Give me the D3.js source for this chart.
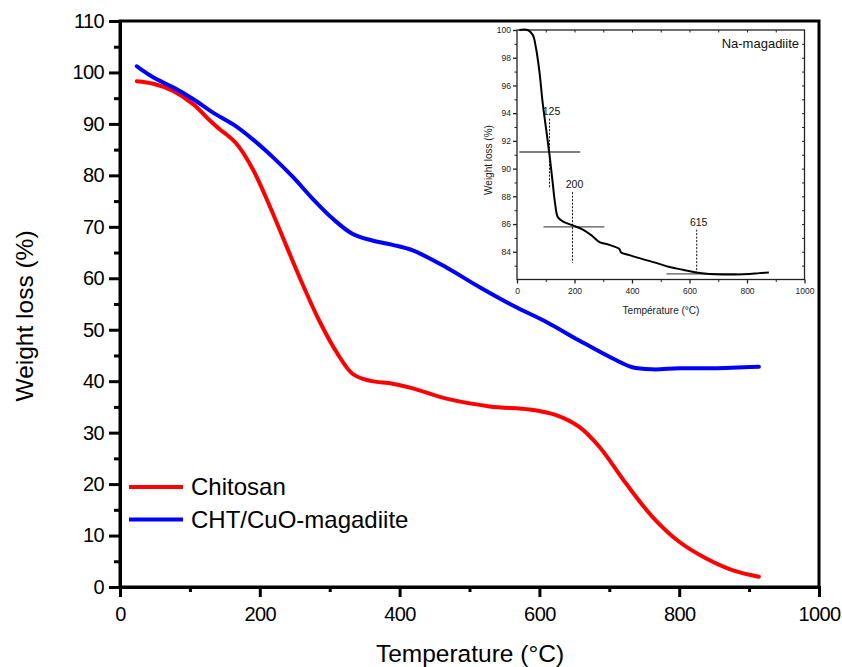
<!DOCTYPE html>
<html>
<head>
<meta charset="utf-8">
<script src="https://cdn.jsdelivr.net/npm/d3@7"></script>
<style>
  html, body { margin: 0; padding: 0; background: #fff; }
  svg { display: block; font-family: "Liberation Sans", Arial, sans-serif; }
</style>
</head>
<body>
<svg id="chart" width="842" height="667"></svg>
<script>
// ---- Main chart data ----
const chitosanTemp = [24, 48, 76, 105, 129, 143, 150, 167, 190, 214, 238, 262, 286, 310, 333, 357, 390, 419, 467, 529, 586, 624, 657, 686, 724, 762, 800, 838, 876, 914];
const chitosanWeight = [98.3, 97.8, 96.4, 93.8, 90.6, 88.9, 88.2, 86.1, 81.2, 74.1, 66.3, 58.6, 51.5, 45.6, 41.4, 40.1, 39.5, 38.6, 36.6, 35.1, 34.5, 33.4, 31.1, 27.2, 20.1, 13.6, 8.8, 5.6, 3.3, 2.0];
const chtTemp = [24, 28, 48, 76, 105, 133, 162, 190, 219, 248, 276, 305, 333, 362, 390, 419, 467, 514, 562, 610, 657, 705, 733, 762, 800, 848, 914];
const chtWeight = [101.2, 100.8, 99.0, 97.1, 94.8, 92.2, 89.9, 87.0, 83.5, 79.6, 75.4, 71.5, 68.6, 67.3, 66.5, 65.4, 62.1, 58.3, 54.7, 51.5, 47.9, 44.4, 42.7, 42.3, 42.5, 42.5, 42.8];
const seriesNames = ["Chitosan", "CHT/CuO-magadiite"];
const seriesColors = ["#ff0000", "#0000ff"];
const xTicks = [0, 200, 400, 600, 800, 1000];
const yTicks = [0, 10, 20, 30, 40, 50, 60, 70, 80, 90, 100, 110];

// ---- Inset data (Na-magadiite) ----
const insetTemp = [8, 37, 55, 66, 78, 89, 101, 113, 124, 133, 142, 159, 194, 229, 258, 287, 321, 356, 362, 391, 437, 484, 530, 577, 623, 669, 716, 762, 809, 843, 876];
const insetWeight = [100, 100, 99.64, 98.7, 97, 94.8, 92.9, 91, 89, 87.4, 86.5, 86.2, 85.9, 85.6, 85.2, 84.7, 84.5, 84.2, 83.95, 83.76, 83.47, 83.2, 82.9, 82.7, 82.5, 82.4, 82.36, 82.36, 82.4, 82.46, 82.5];
const insetXTicks = [0, 200, 400, 600, 800, 1000];
const insetYTicks = [84, 86, 88, 90, 92, 94, 96, 98, 100];
const insetMarkerTemps = [113, 193, 625];
const insetMarkerLabels = ["125", "200", "615"];
const insetMarkerYFrom = [93.6, 88.3, 85.6];
const insetMarkerYTo = [88.6, 83.2, 82.5];
const insetTangentY = [91.2, 85.8, 82.4];
const insetTangentX1 = [8, 92, 520];
const insetTangentX2 = [220, 304, 765];

const svg = d3.select("#chart");

// ---------- Main plot ----------
const L = 120, R = 819, T = 21, B = 587;
const x = d3.scaleLinear().domain([0, 1000]).range([L, R]);
const y = d3.scaleLinear().domain([0, 110]).range([B, T]);

// frame
svg.append("rect").attr("x", L).attr("y", T).attr("width", R - L).attr("height", B - T)
  .attr("fill", "none").attr("stroke", "#000").attr("stroke-width", 3);

// x axis
const xAxis = d3.axisBottom(x).tickValues(xTicks).tickSize(10).tickPadding(8).tickFormat(d3.format("d"));
const gx = svg.append("g").attr("transform", `translate(0,${B})`).call(xAxis);
gx.select(".domain").attr("stroke-width", 3);
gx.selectAll(".tick line").attr("stroke-width", 3);
gx.selectAll(".tick text").attr("font-size", 20).attr("font-family", "Liberation Sans, Arial, sans-serif").attr("letter-spacing", "-0.6px").attr("dy", "0.8em");
const xMinor = d3.axisBottom(x).tickValues(d3.range(100, 1000, 200)).tickSize(5).tickFormat("");
const gxm = svg.append("g").attr("transform", `translate(0,${B})`).call(xMinor);
gxm.select(".domain").remove();
gxm.selectAll(".tick line").attr("stroke-width", 3);

// y axis
const yAxis = d3.axisLeft(y).tickValues(yTicks).tickSize(11).tickPadding(5).tickFormat(d3.format("d"));
const gy = svg.append("g").attr("transform", `translate(${L},0)`).call(yAxis);
gy.select(".domain").attr("stroke-width", 3);
gy.selectAll(".tick line").attr("stroke-width", 3);
gy.selectAll(".tick text").attr("font-size", 20).attr("font-family", "Liberation Sans, Arial, sans-serif").attr("letter-spacing", "-0.6px");
const yMinor = d3.axisLeft(y).tickValues(d3.range(5, 110, 10)).tickSize(6).tickFormat("");
const gym = svg.append("g").attr("transform", `translate(${L},0)`).call(yMinor);
gym.select(".domain").remove();
gym.selectAll(".tick line").attr("stroke-width", 3);

// axis titles
svg.append("text").attr("x", 470).attr("y", 662).attr("text-anchor", "middle")
  .attr("font-size", 24.5).text("Temperature (°C)");
svg.append("text").attr("transform", "translate(33,316) rotate(-90)").attr("text-anchor", "middle")
  .attr("font-size", 24.5).text("Weight loss (%)");

// lines
const line = d3.line().x(d => x(d[0])).y(d => y(d[1])).curve(d3.curveCatmullRom.alpha(0.5));
const series = [
  d3.zip(chitosanTemp, chitosanWeight),
  d3.zip(chtTemp, chtWeight)
];
svg.selectAll("path.series").data(series).join("path").attr("class", "series")
  .attr("d", line).attr("fill", "none")
  .attr("stroke", (d, i) => seriesColors[i]).attr("stroke-width", 4)
  .attr("stroke-linejoin", "round").attr("stroke-linecap", "round");

// legend
const leg = svg.append("g");
seriesNames.forEach((name, i) => {
  const ly = 487 + i * 32.5;
  leg.append("line").attr("x1", 129).attr("x2", 183).attr("y1", ly).attr("y2", ly)
    .attr("stroke", seriesColors[i]).attr("stroke-width", 4);
  leg.append("text").attr("x", 191).attr("y", ly).attr("dy", "0.35em")
    .attr("font-size", 24).text(name);
});

// ---------- Inset ----------
const iL = 517, iR = 804.5, iT = 30, iB = 279.5;
const ix = d3.scaleLinear().domain([0, 1000]).range([iL, iR]);
const iy = d3.scaleLinear().domain([82, 100]).range([iB, iT]);
const inset = svg.append("g");

inset.append("rect").attr("x", iL).attr("y", iT).attr("width", iR - iL).attr("height", iB - iT)
  .attr("fill", "none").attr("stroke", "#222").attr("stroke-width", 1.3);

const ixAxis = d3.axisBottom(ix).tickValues(insetXTicks).tickSize(4).tickPadding(4).tickFormat(d3.format("d"));
const gix = inset.append("g").attr("transform", `translate(0,${iB})`).call(ixAxis);
gix.select(".domain").remove();
gix.selectAll(".tick line").attr("stroke", "#222").attr("stroke-width", 1.3);
gix.selectAll(".tick text").attr("font-size", 8.5).attr("fill", "#222").attr("font-family", "Liberation Sans, Arial, sans-serif");
const gixm = inset.append("g").attr("transform", `translate(0,${iB})`)
  .call(d3.axisBottom(ix).tickValues(d3.range(100, 1000, 200)).tickSize(2.5).tickFormat(""));
gixm.select(".domain").remove();
gixm.selectAll(".tick line").attr("stroke", "#222");
// top ticks (inward)
const gixt = inset.append("g").attr("transform", `translate(0,${iT})`)
  .call(d3.axisBottom(ix).tickValues(d3.range(100, 1000, 100)).tickSize(2.5).tickFormat(""));
gixt.select(".domain").remove();
gixt.selectAll(".tick line").attr("stroke", "#222");

const iyAxis = d3.axisLeft(iy).tickValues(insetYTicks).tickSize(4).tickPadding(2).tickFormat(d3.format("d"));
const giy = inset.append("g").attr("transform", `translate(${iL},0)`).call(iyAxis);
giy.select(".domain").remove();
giy.selectAll(".tick line").attr("stroke", "#222").attr("stroke-width", 1.3);
giy.selectAll(".tick text").attr("font-size", 8.5).attr("fill", "#222").attr("font-family", "Liberation Sans, Arial, sans-serif");
const giym = inset.append("g").attr("transform", `translate(${iL},0)`)
  .call(d3.axisLeft(iy).tickValues(d3.range(83, 100, 2)).tickSize(2.5).tickFormat(""));
giym.select(".domain").remove();
giym.selectAll(".tick line").attr("stroke", "#222");
// right ticks (inward)
const giyr = inset.append("g").attr("transform", `translate(${iR},0)`)
  .call(d3.axisLeft(iy).tickValues(d3.range(83, 100, 1)).tickSize(2.5).tickFormat(""));
giyr.select(".domain").remove();
giyr.selectAll(".tick line").attr("stroke", "#222");

inset.append("text").attr("x", 661).attr("y", 314).attr("text-anchor", "middle")
  .attr("font-size", 10).attr("fill", "#222").text("Température (°C)");
inset.append("text").attr("transform", "translate(492,160) rotate(-90)").attr("text-anchor", "middle")
  .attr("font-size", 10).attr("fill", "#222").text("Weight loss (%)");
inset.append("text").attr("x", 799).attr("y", 48).attr("text-anchor", "end")
  .attr("font-size", 13).attr("fill", "#111").text("Na-magadiite");

// tangent lines
insetTangentY.forEach((v, i) => {
  inset.append("line").attr("x1", ix(insetTangentX1[i])).attr("x2", ix(insetTangentX2[i]))
    .attr("y1", iy(v)).attr("y2", iy(v)).attr("stroke", "#555").attr("stroke-width", 1.3);
});
// marker dashed lines + labels
insetMarkerTemps.forEach((t, i) => {
  inset.append("line").attr("x1", ix(t)).attr("x2", ix(t))
    .attr("y1", iy(insetMarkerYFrom[i])).attr("y2", iy(insetMarkerYTo[i]))
    .attr("stroke", "#111").attr("stroke-width", 1).attr("stroke-dasharray", "2,1.5");
  inset.append("text").attr("x", ix(t) + 2).attr("y", iy(insetMarkerYFrom[i]) - 4)
    .attr("text-anchor", "middle").attr("font-size", 10.5).attr("fill", "#111").text(insetMarkerLabels[i]);
});

const iline = d3.line().x(d => ix(d[0])).y(d => iy(d[1])).curve(d3.curveCatmullRom.alpha(0.5));
inset.append("path").datum(d3.zip(insetTemp, insetWeight))
  .attr("d", iline).attr("fill", "none").attr("stroke", "#000").attr("stroke-width", 2)
  .attr("stroke-linejoin", "round");
</script>
</body>
</html>
